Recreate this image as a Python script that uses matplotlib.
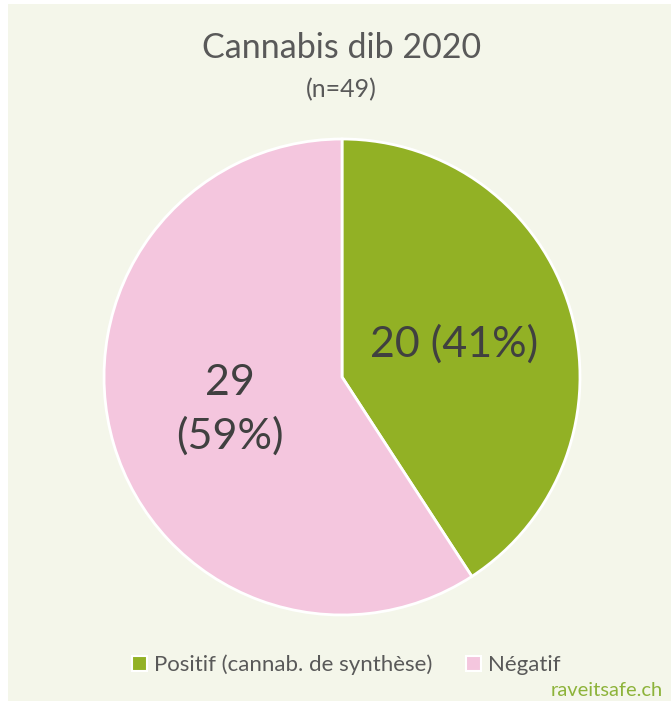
#!/usr/bin/env python

'''Pie chart: cannabis dib 2020 results.'''

import math
import matplotlib.pyplot as plt
from matplotlib.patches import Patch, Rectangle

plt.rcParams['font.family'] = ['Lato', 'DejaVu Sans']

########################################################################
# Data

labels = ['Positif (cannab. de synthèse)', 'Négatif']
counts = [20, 29]
colors = ['#92B125', '#F4C6DE']
title = 'Cannabis dib 2020'
subtitle = '(n=49)'

total = sum(counts)

########################################################################
# Figure

fig = plt.figure(figsize=(6.71, 7.01), dpi=100)
fig.patch.set_facecolor('white')
fig.patches.append(Rectangle((8 / 671, 0.0), 1.0, 1 - 4 / 701,
                             transform=fig.transFigure, facecolor='#F4F6EA',
                             edgecolor='none', zorder=-10))

ax = fig.add_axes([0.155, 0.1227, 0.7094, 0.679])
ax.set_facecolor('none')
wedges, _ = ax.pie(counts, colors=colors, startangle=90, counterclock=False,
                   radius=1.0,
                   wedgeprops=dict(edgecolor='white', linewidth=2))
ax.set_xlim(-1, 1)
ax.set_ylim(-1, 1)
ax.set_aspect('equal')
ax.axis('off')

# labels in each wedge
texts = ['{} ({}%)'.format(counts[0], round(100 * counts[0] / total)),
         '{}\n({}%)'.format(counts[1], round(100 * counts[1] / total))]
for w, t in zip(wedges, texts):
    mid = math.radians((w.theta1 + w.theta2) / 2)
    ax.text(0.49 * math.cos(mid), 0.49 * math.sin(mid), t,
            ha='center', va='center', fontsize=31, color='#404040',
            linespacing=1.45)

fig.text(0.509, 1 - 48 / 701, title, ha='center', va='center',
         fontsize=24.5, color='#595959')
fig.text(0.509, 1 - 90 / 701, subtitle, ha='center', va='center',
         fontsize=18, color='#595959')

handles = [Patch(facecolor=c, edgecolor='white', linewidth=1.5) for c in colors]
fig.legend(handles, labels, loc='center', bbox_to_anchor=(0.516, 1 - 665 / 701),
           ncol=2, frameon=False, fontsize=16, labelcolor='#595959',
           handlelength=0.7, handleheight=0.7, handletextpad=0.3,
           columnspacing=1.5)

fig.text(663 / 671, 1 - 690 / 701, 'raveitsafe.ch', ha='right', va='center',
         fontsize=14.5, color='#8DB33A')

plt.savefig('out.png', dpi=100)
